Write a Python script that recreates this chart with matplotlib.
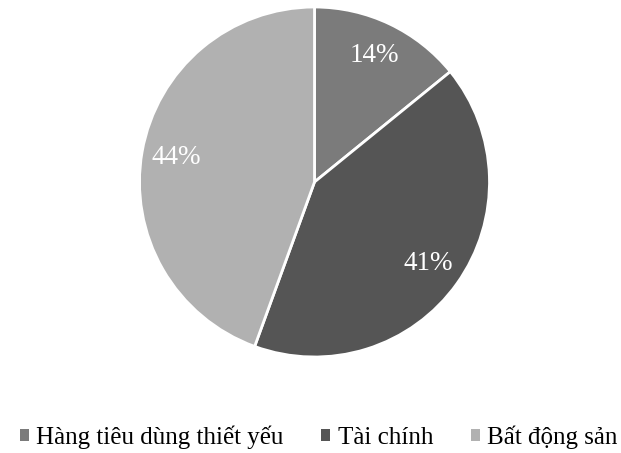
import matplotlib
matplotlib.use("Agg")
import matplotlib.pyplot as plt
from matplotlib.patches import Patch

plt.rcParams['font.family'] = ['Liberation Serif', 'DejaVu Serif']

categories = ["Hàng tiêu dùng thiết yếu", "Tài chính", "Bất động sản"]
shares = [14, 41, 44]
colors = ["#7b7b7b", "#555555", "#b1b1b1"]

fig = plt.figure(figsize=(6.21, 4.53), dpi=100)
W, H = 621, 453
cx, cy, r = 314.5, 182, 175
ax = fig.add_axes([(cx - r) / W, (H - cy - r) / H, 2 * r / W, 2 * r / H])

wedges, texts, autotexts = ax.pie(
    shares, colors=colors, startangle=90, counterclock=False,
    autopct=lambda p: f"{p * sum(shares) / 100:.0f}%", pctdistance=0.8,
    wedgeprops=dict(edgecolor="white", linewidth=2),
    textprops=dict(color="white", fontsize=19.5),
)
ax.set_xlim(-1, 1)
ax.set_ylim(-1, 1)
ax.set_aspect("equal")

handles = [Patch(facecolor=c, edgecolor="none") for c in colors]
fig.legend(handles, categories, loc="center", bbox_to_anchor=(0.513, (H - 437) / H),
           ncol=3, frameon=False, fontsize=18, handlelength=0.36, handleheight=0.36,
           handletextpad=0.3, columnspacing=1.5)

fig.savefig("out.png", dpi=100)
